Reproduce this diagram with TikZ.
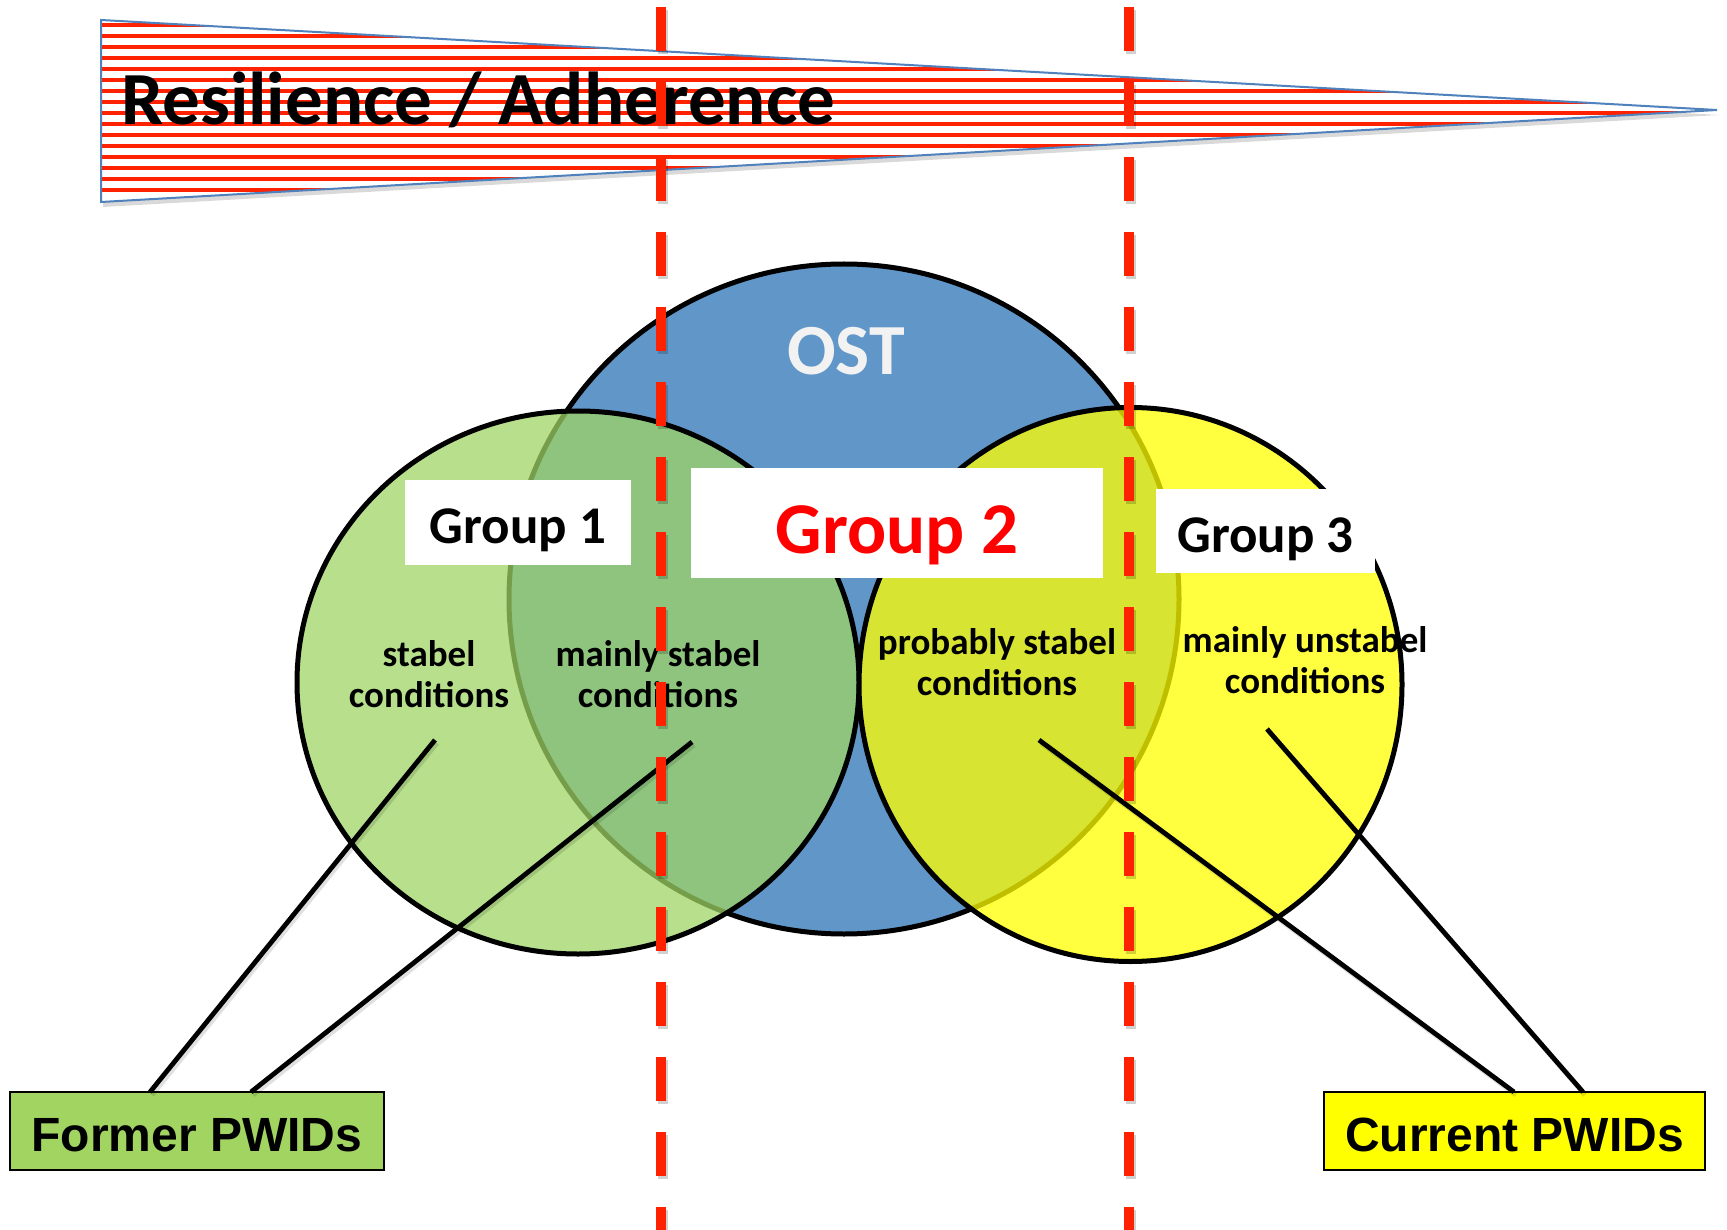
\documentclass[tikz,border=0pt]{standalone}
\usepackage{fontspec}
\usetikzlibrary{shapes.geometric}
\setmainfont{Carlito}
\newfontfamily\arialfont{Liberation Sans}
\definecolor{ostblue}{RGB}{97,150,201}
\definecolor{grn}{RGB}{159,213,100}
\definecolor{ylw}{RGB}{255,255,0}
\definecolor{dashred}{RGB}{255,34,0}
\definecolor{wedgeblue}{RGB}{79,129,189}
\definecolor{formergreen}{RGB}{162,212,98}
\definecolor{grpred}{RGB}{255,0,0}
\definecolor{ostwhite}{RGB}{242,242,242}
\begin{document}
\begin{tikzpicture}[x=1pt,y=-1pt,
  venn/.style={ellipse, draw=black, line width=5pt, inner sep=0pt},
  grpbox/.style={fill=white, inner sep=0pt, text depth=0pt},
  cond/.style={align=center, inner sep=0pt, font=\bfseries\fontsize{37}{41}\selectfont},
  connector/.style={line width=4.8pt, black},
  connshadow/.style={line width=4.8pt, black, opacity=0.12},
  pwidbox/.style={draw=black, line width=2.5pt, minimum width=374pt, minimum height=78pt, inner sep=0pt, text height=40pt, text depth=0pt, font=\arialfont\bfseries\fontsize{48}{58}\selectfont},
  divider/.style={dashred, line width=10pt, dash pattern=on 44pt off 31pt, dash phase=68pt},
  dividershadow/.style={black, opacity=0.18, line width=10pt, dash pattern=on 44pt off 31pt, dash phase=68pt}
]
\fill[white] (0,0) rectangle (1727,1230);
\useasboundingbox (0,0) rectangle (1727,1230);

% wedge
\coordinate (wtl) at (101,20);
\coordinate (wbl) at (101,202);
\coordinate (wtip) at (1717,110);
\fill[black, opacity=0.15] ([shift={(2,5)}]wtl) -- ([shift={(2,5)}]wtip) -- ([shift={(2,5)}]wbl) -- cycle;
\fill[white] (wtl) -- (wtip) -- (wbl) -- cycle;
\begin{scope}
  \clip (wtl) -- (wtip) -- (wbl) -- cycle;
  \foreach \k in {0,...,15} \draw[dashred, line width=3.5pt] (101,25+11*\k) -- (1717,25+11*\k);
\end{scope}
\draw[wedgeblue, line width=2pt, line join=miter] (wtl) -- (wtip) -- (wbl) -- cycle;
\node[anchor=base west, inner sep=0pt, font=\bfseries\fontsize{75}{90}\selectfont] (title) at (121,125) {Resilience / Adherence};

% circles
\node[venn, fill=ostblue, minimum width=670pt, minimum height=670pt] (ost) at (844,599) {};
\node[anchor=base, inner sep=0pt, text=ostwhite, font=\bfseries\fontsize{72}{86}\selectfont] (ostlabel) at (846,375) {OST};
\node[venn, fill=grn, fill opacity=0.74, minimum width=562pt, minimum height=543pt] (g1) at (578,682.5) {};
\node[venn, fill=ylw, fill opacity=0.75, minimum width=543pt, minimum height=554pt] (g3) at (1130.5,684.5) {};

% group boxes
\node[grpbox, minimum width=226pt, minimum height=85pt, text height=41pt, font=\bfseries\fontsize{53}{64}\selectfont] (grp1) at (518,522.5) {Group 1};
\node[grpbox, minimum width=412pt, minimum height=110pt, text height=60pt, text=grpred, font=\bfseries\fontsize{73}{88}\selectfont] (grp2) at (897,523) {Group 2};
\node[grpbox, minimum width=219pt, minimum height=84pt, text height=42pt, font=\bfseries\fontsize{53}{64}\selectfont] (grp3) at (1265.5,531) {Group 3};

% condition labels
\node[cond] (c1) at (429,674) {stabel\\conditions};
\node[cond] (c2) at (658,674) {mainly stabel\\conditions};
\node[cond] (c3) at (997,662) {probably stabel\\conditions};
\node[cond] (c4) at (1305,660.5) {mainly unstabel\\conditions};

% PWID boxes
\node[pwidbox, fill=formergreen] (former) at (197,1131) {Former PWIDs};
\node[pwidbox, fill=ylw, minimum width=381pt] (current) at (1514.5,1131) {Current PWIDs};

% connectors
\coordinate (c1tail) at (435,740);
\coordinate (c2tail) at (692,742);
\coordinate (c3tail) at (1039,740);
\coordinate (c4tail) at (1267,729);
\coordinate (f1) at (150,1092);
\coordinate (f2) at (251,1092);
\coordinate (k1) at (1514,1092);
\coordinate (k2) at (1583,1092);
\foreach \a/\b in {c1tail/f1, c2tail/f2, c3tail/k1, c4tail/k2}
  \draw[connshadow] ([shift={(2,3)}]\a) -- ([shift={(2,3)}]\b);
\draw[connector] (c1tail) -- (f1);
\draw[connector] (c2tail) -- (f2);
\draw[connector] (c3tail) -- (k1);
\draw[connector] (c4tail) -- (k2);

% dividers
\coordinate (d1top) at (661,0);
\coordinate (d1bot) at (661,1230);
\coordinate (d2top) at (1129,0);
\coordinate (d2bot) at (1129,1230);
\draw[dividershadow] ([shift={(2,3)}]d1top) -- ([shift={(2,3)}]d1bot);
\draw[dividershadow] ([shift={(2,3)}]d2top) -- ([shift={(2,3)}]d2bot);
\draw[divider] (d1top) -- (d1bot);
\draw[divider] (d2top) -- (d2bot);
\end{tikzpicture}
\end{document}
